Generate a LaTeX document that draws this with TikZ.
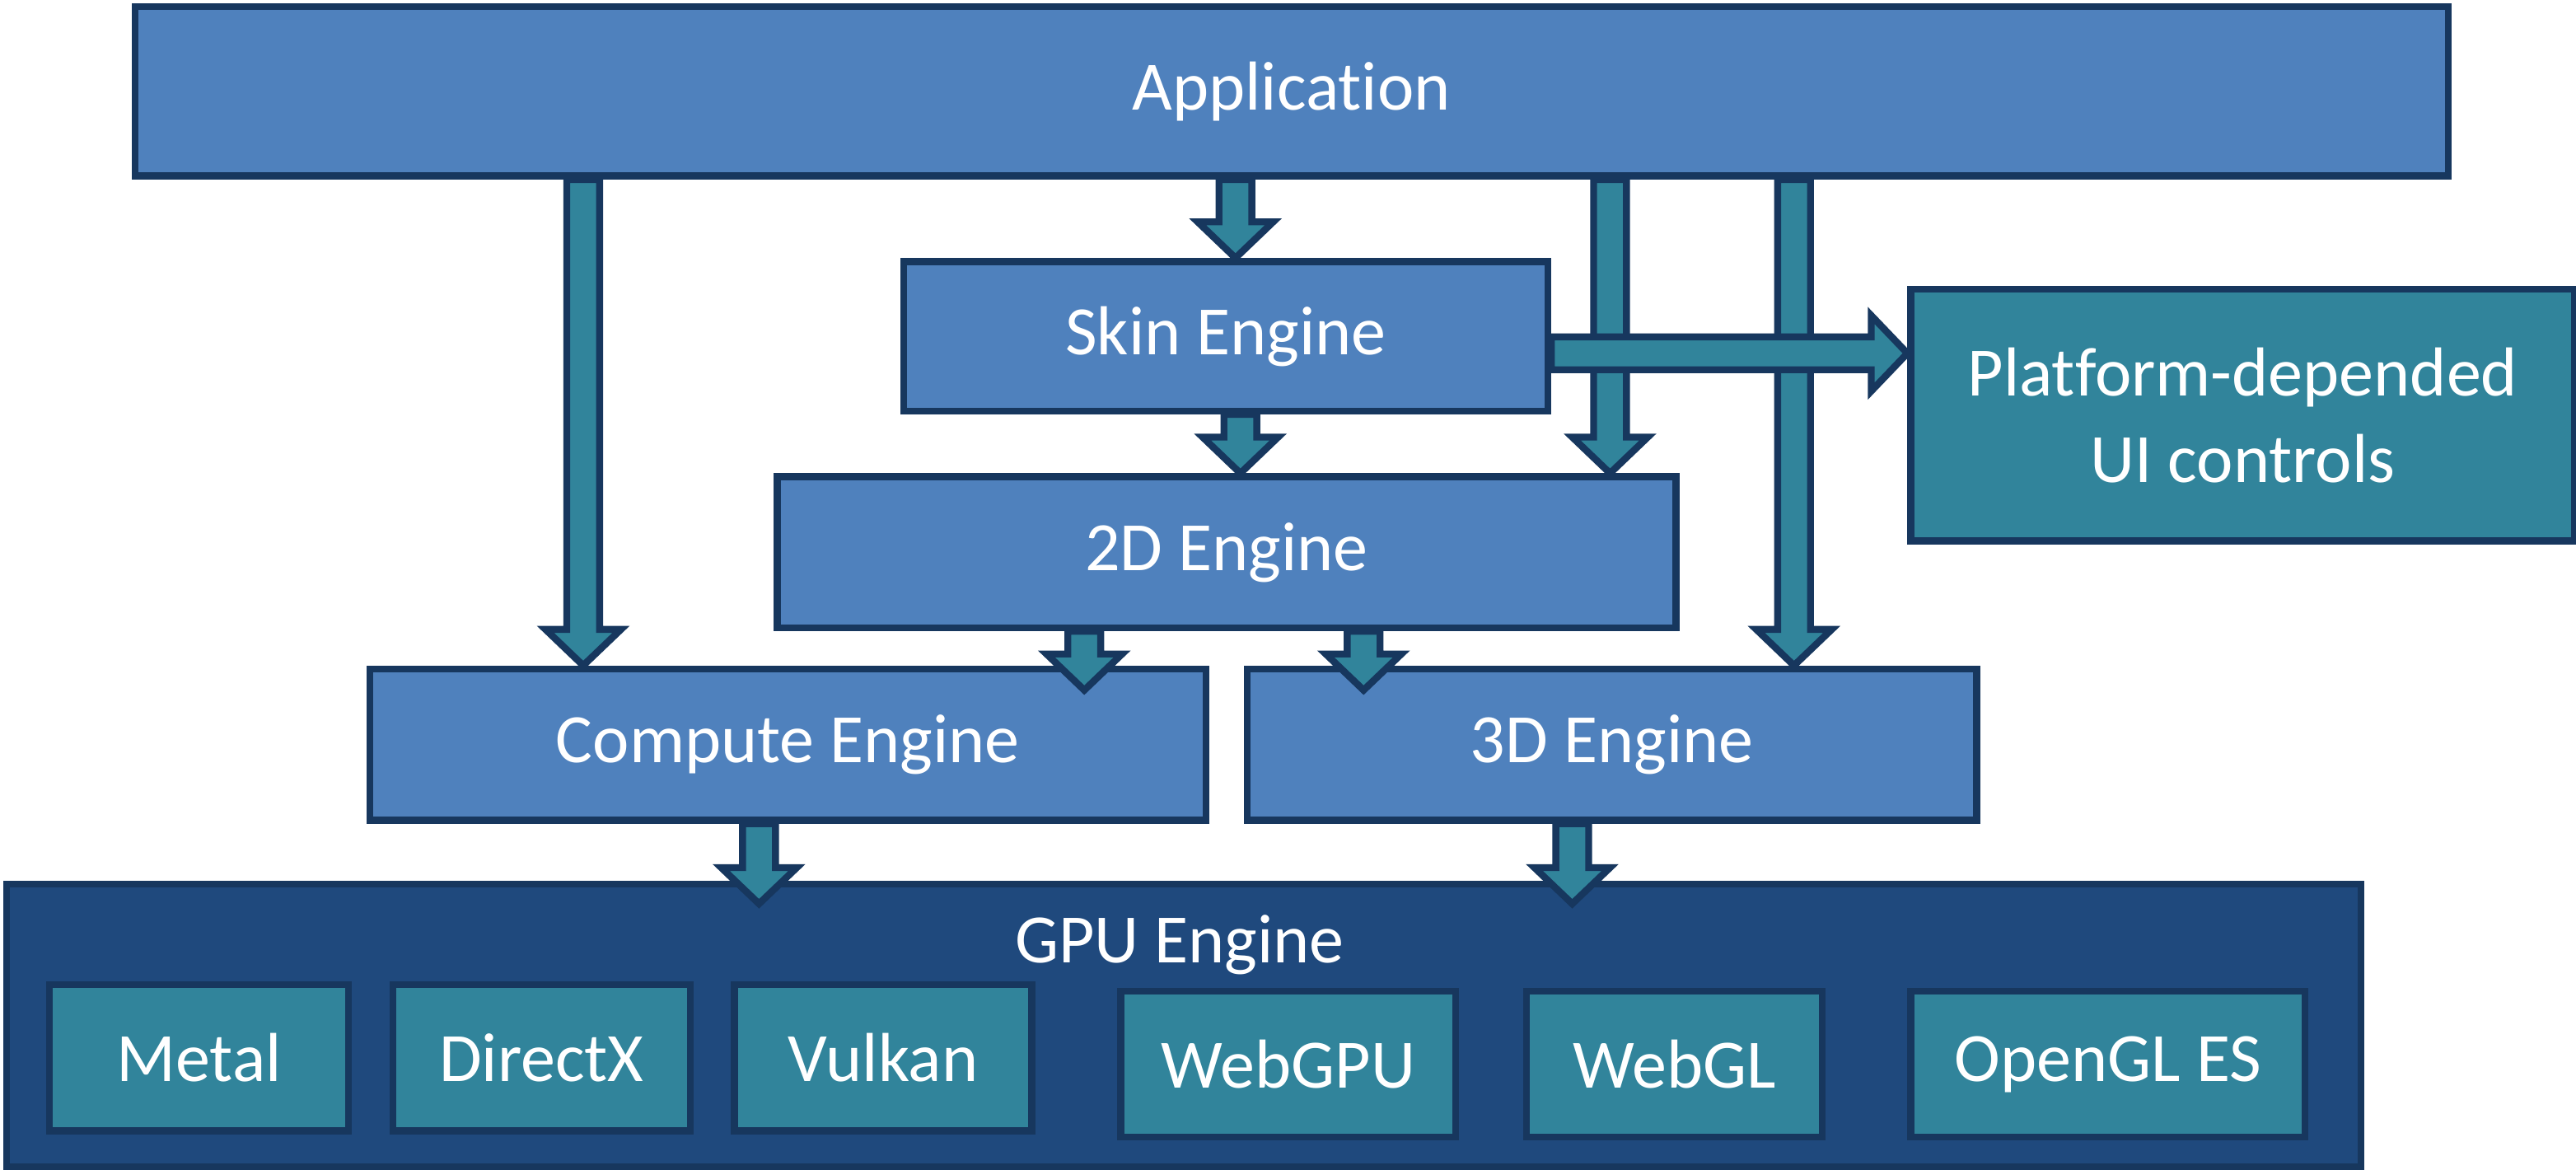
\documentclass[tikz,border=0pt]{standalone}
\usepackage{fontspec}
\setmainfont[Ligatures={NoCommon}]{Carlito}
\usetikzlibrary{calc}
\definecolor{bluefill}{HTML}{4F81BD}
\definecolor{tealfill}{HTML}{31849B}
\definecolor{navyfill}{HTML}{1F497D}
\definecolor{edge}{HTML}{17375E}
\tikzset{
  box/.style={draw=edge, line width=1.2pt, inner sep=0pt, anchor=north west},
  bluebox/.style={box, fill=bluefill},
  tealbox/.style={box, fill=tealfill},
  lbl/.style={text=white, font=\fontsize{12}{15}\selectfont, align=center},
  barrowstyle/.style={draw=edge, line width=1.2pt, fill=tealfill, line join=miter},
}
\newcommand{\mkbox}[6]{\node[#1, minimum width=#4cm-#2cm, minimum height=#5cm-#3cm] (#6) at (#2,-#3) {};}
\newcommand{\vbar}[3]{% x, from, to (points)
  \path[barrowstyle] let \p1=(#2), \p2=(#3) in
   (#1-0.1,\y1) -- (#1-0.1,\y2+0.22cm) -- (#1-0.23,\y2+0.22cm) -- (#1,\y2) -- (#1+0.23,\y2+0.22cm) -- (#1+0.1,\y2+0.22cm) -- (#1+0.1,\y1) -- cycle;}
\begin{document}
\begin{tikzpicture}
\useasboundingbox (0,0) rectangle (15.68,-7.12);
\fill[white] (0,0) rectangle (15.68,-7.12);
\mkbox{bluebox}{0.80}{0.02}{14.88}{1.05}{app}
\node[lbl] at (app.center) {Application};
\mkbox{bluebox}{5.48}{1.57}{9.40}{2.48}{skin}
\node[lbl] at (skin.center) {Skin Engine};
\mkbox{tealbox}{11.61}{1.74}{15.65}{3.27}{plat}
\node[lbl] at (plat.center) {Platform-depended\\UI controls};
\mkbox{bluebox}{4.71}{2.88}{10.18}{3.80}{twod}
\node[lbl] at (twod.center) {2D Engine};
\mkbox{bluebox}{2.23}{4.05}{7.32}{4.97}{comp}
\node[lbl] at (comp.center) {Compute Engine};
\mkbox{bluebox}{7.57}{4.05}{12.01}{4.97}{threed}
\node[lbl] at (threed.center) {3D Engine};
\mkbox{box,fill=navyfill}{0.02}{5.36}{14.35}{7.08}{gpu}
\node[lbl] (gpulabel) at (7.18,-5.75) {GPU Engine};
\mkbox{tealbox}{0.28}{5.97}{2.10}{6.86}{metal}
\node[lbl] at (metal.center) {Metal};
\mkbox{tealbox}{2.37}{5.97}{4.18}{6.86}{dx}
\node[lbl] at (dx.center) {DirectX};
\mkbox{tealbox}{4.45}{5.97}{6.26}{6.86}{vk}
\node[lbl] at (vk.center) {Vulkan};
\mkbox{tealbox}{6.80}{6.01}{8.84}{6.90}{wgpu}
\node[lbl] at (wgpu.center) {WebGPU};
\mkbox{tealbox}{9.27}{6.01}{11.07}{6.90}{wgl}
\node[lbl] at (wgl.center) {WebGL};
\mkbox{tealbox}{11.61}{6.01}{14.01}{6.90}{gles}
\node[lbl] at (gles.center) {OpenGL ES};
% arrows
\vbar{3.55}{app.south}{comp.north}
\vbar{7.52}{app.south}{skin.north}
\vbar{9.80}{app.south}{twod.north}
\vbar{10.92}{app.south}{threed.north}
\vbar{7.55}{skin.south}{twod.north}
\coordinate (c1) at ($(comp.north)+(0,-0.15)$);
\coordinate (t1) at ($(threed.north)+(0,-0.15)$);
\vbar{6.60}{twod.south}{c1}
\vbar{8.30}{twod.south}{t1}
\coordinate (g1) at ($(gpu.north)+(0,-0.14)$);
\vbar{4.62}{comp.south}{g1}
\vbar{9.57}{threed.south}{g1}
\path[barrowstyle] let \p1=(skin.east), \p2=(plat.west) in
  (\x1,-2.05) -- (\x2-0.22cm,-2.05) -- (\x2-0.22cm,-1.92) -- (\x2,-2.15) -- (\x2-0.22cm,-2.38) -- (\x2-0.22cm,-2.25) -- (\x1,-2.25) -- cycle;
\end{tikzpicture}
\end{document}
